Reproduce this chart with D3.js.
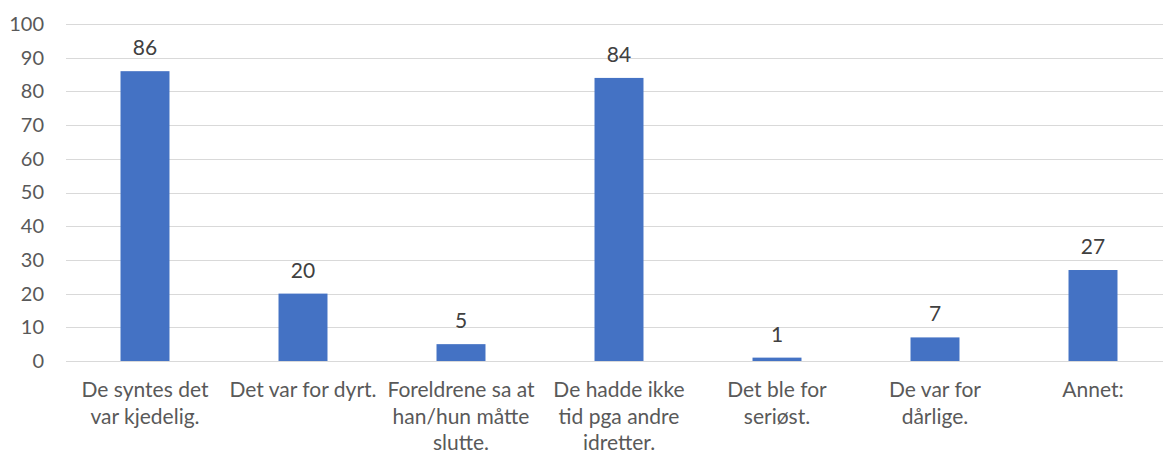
<!DOCTYPE html>
<html>
<head>
<meta charset="utf-8">
<script src="https://cdn.jsdelivr.net/npm/d3@7"></script>
<style>
  body { margin: 0; background: #fff; }
  text { font-family: Lato, "Open Sans", sans-serif; }
</style>
</head>
<body>
<svg id="chart" width="1163" height="455"></svg>
<script>
// data
var categories = [
    "De syntes det var kjedelig.",
    "Det var for dyrt.",
    "Foreldrene sa at han/hun måtte slutte.",
    "De hadde ikke tid pga andre idretter.",
    "Det ble for seriøst.",
    "De var for dårlige.",
    "Annet:"
];
var categoryLines = [
    ["De syntes det", "var kjedelig."],
    ["Det var for dyrt."],
    ["Foreldrene sa at", "han/hun måtte", "slutte."],
    ["De hadde ikke", "tid pga andre", "idretter."],
    ["Det ble for", "seriøst."],
    ["De var for", "dårlige."],
    ["Annet:"]
];
var values = [86, 20, 5, 84, 1, 7, 27];
var yTicks = [0, 10, 20, 30, 40, 50, 60, 70, 80, 90, 100];

var svg = d3.select("#chart");

var x = d3.scaleBand()
    .domain(categories)
    .range([66, 1172])
    .paddingInner(0.69)
    .paddingOuter(0.345);

var y = d3.scaleLinear()
    .domain([0, 100])
    .range([361, 24]);

// gridlines
svg.append("g")
    .selectAll("line")
    .data(yTicks)
    .join("line")
    .attr("x1", 66)
    .attr("x2", 1163)
    .attr("y1", function(d){ return Math.round(y(d)) + 0.5; })
    .attr("y2", function(d){ return Math.round(y(d)) + 0.5; })
    .attr("stroke", "#d9d9d9")
    .attr("stroke-width", 1);

// y axis labels
var yAxis = d3.axisLeft(y).tickValues(yTicks).tickSize(0).tickPadding(0);
var ya = svg.append("g")
    .attr("transform", "translate(44,0)")
    .call(yAxis);
ya.select(".domain").remove();
ya.selectAll("text")
    .attr("font-size", "20px")
    .attr("font-family", "Lato")
    .attr("fill", "#595959");

// bars
svg.append("g")
    .selectAll("rect")
    .data(values)
    .join("rect")
    .attr("x", function(d, i){ return x(categories[i]); })
    .attr("width", x.bandwidth())
    .attr("y", function(d){ return y(d); })
    .attr("height", function(d){ return y(0) - y(d); })
    .attr("fill", "#4472c4");

// value labels
svg.append("g")
    .selectAll("text")
    .data(values)
    .join("text")
    .attr("x", function(d, i){ return x(categories[i]) + x.bandwidth() / 2; })
    .attr("y", function(d){ return y(d) - 16; })
    .attr("text-anchor", "middle")
    .attr("font-size", "21px")
    .attr("fill", "#404040")
    .text(function(d){ return d; });

// category labels
var cat = svg.append("g")
    .selectAll("text")
    .data(categoryLines)
    .join("text")
    .attr("x", function(d, i){ return x(categories[i]) + x.bandwidth() / 2; })
    .attr("y", 397)
    .attr("text-anchor", "middle")
    .attr("font-size", "21px")
    .attr("fill", "#595959");

cat.selectAll("tspan")
    .data(function(d){ return d; })
    .join("tspan")
    .attr("x", function(){ return d3.select(this.parentNode).attr("x"); })
    .attr("dy", function(d, i){ return i === 0 ? 0 : 26.5; })
    .text(function(d){ return d; });
</script>
</body>
</html>
